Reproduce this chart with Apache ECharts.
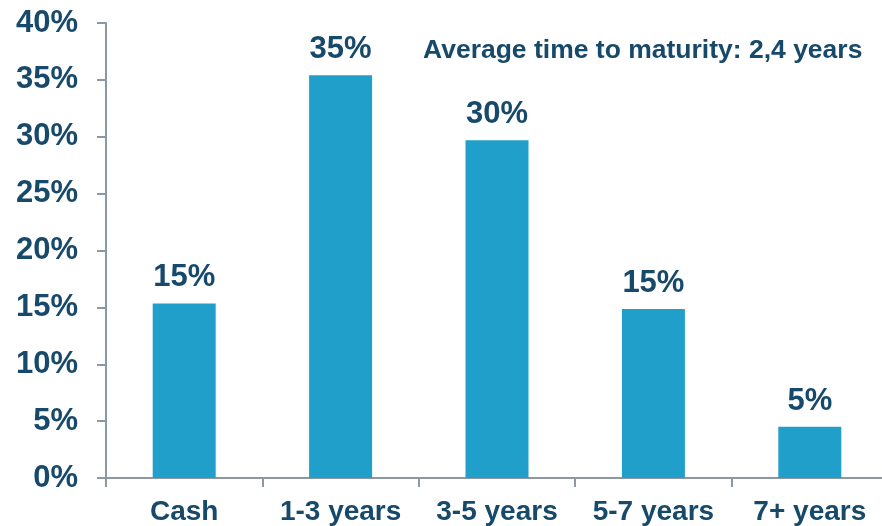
<!DOCTYPE html>
<html>
<head>
<meta charset="utf-8">
<script src="https://cdn.jsdelivr.net/npm/echarts@6/dist/echarts.min.js"></script>
<style>
html,body{margin:0;padding:0;background:#fff;overflow:hidden;}
#chart{width:888px;height:526px;}
</style>
</head>
<body>
<div id="chart"></div>
<script>
const categories = ['Cash', '1-3 years', '3-5 years', '5-7 years', '7+ years'];
const values = [15.35, 35.4, 29.7, 14.85, 4.5];
const valueLabels = ['15%', '35%', '30%', '15%', '5%'];
const yTicks = [0, 5, 10, 15, 20, 25, 30, 35, 40];
const note = 'Average time to maturity: 2,4 years';

const textColor = '#17496B';
const axisColor = '#8E98A3';
const barColor = '#209FCB';
const font = '"Liberation Sans", Arial, sans-serif';

const chart = echarts.init(document.getElementById('chart'));
chart.setOption({
  animation: false,
  backgroundColor: '#fff',
  title: {
    text: note,
    left: 418,
    top: 32,
    textStyle: { color: textColor, fontFamily: font, fontWeight: 'bold', fontSize: 26.5 }
  },
  grid: { left: 106, right: 0, top: 23, bottom: 47, containLabel: false },
  xAxis: {
    type: 'category',
    data: categories,
    axisLine: { show: true, lineStyle: { color: axisColor, width: 2 } },
    axisTick: { show: true, length: 9, lineStyle: { color: axisColor, width: 2 } },
    axisLabel: { color: textColor, fontFamily: font, fontWeight: 'bold', fontSize: 28, margin: 20, interval: 0, hideOverlap: false }
  },
  yAxis: {
    type: 'value',
    min: yTicks[0],
    max: yTicks[yTicks.length - 1],
    interval: 5,
    axisLine: { show: true, lineStyle: { color: axisColor, width: 2 } },
    axisTick: { show: true, length: 9, lineStyle: { color: axisColor, width: 2 } },
    splitLine: { show: false },
    axisLabel: { color: textColor, fontFamily: font, fontWeight: 'bold', fontSize: 31, margin: 28, formatter: '{value}%' }
  },
  series: [{
    type: 'bar',
    data: values,
    barWidth: 63,
    itemStyle: { color: barColor },
    label: {
      show: true,
      position: 'top',
      distance: 10,
      color: textColor,
      fontFamily: font,
      fontWeight: 'bold',
      fontSize: 31,
      formatter: p => valueLabels[p.dataIndex]
    }
  }]
});
</script>
</body>
</html>
